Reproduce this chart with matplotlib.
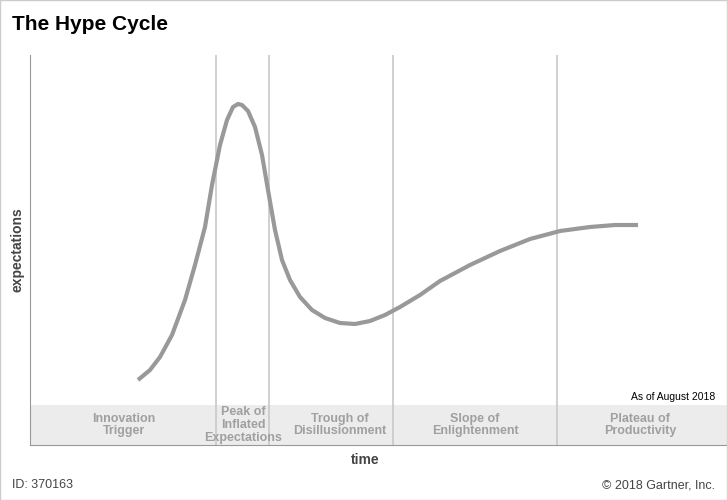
import matplotlib.pyplot as plt
from matplotlib.patches import Rectangle

plt.rcParams['font.family'] = ['Liberation Sans', 'DejaVu Sans']

# curve (x = time, y = expectations), axis units
time_vals = [108, 120, 130, 142, 155, 165, 175, 182, 190, 197, 203, 208, 212, 218, 225,
             232, 238, 245, 252, 260, 270, 282, 295, 310, 325, 340, 355, 370, 390,
             410, 440, 470, 500, 530, 560, 585, 608]
expect_vals = [65, 75, 88, 110, 145, 180, 218, 260, 300, 325, 338, 341, 340, 334, 318,
               290, 255, 215, 185, 165, 148, 135, 127, 122, 121, 124, 130, 138, 150,
               164, 180, 194, 206, 214, 218, 220, 220]

phase_bounds = [186, 239, 363, 527]
phase_names = ['Innovation\nTrigger', 'Peak of\nInflated\nExpectations', 'Trough of\nDisillusionment',
               'Slope of\nEnlightenment', 'Plateau of\nProductivity']
phase_centers = [94, 213, 310, 445, 610]

fig = plt.figure(figsize=(7.27, 5), dpi=100)
fig.patches.append(Rectangle((0, 0), 1, 1, transform=fig.transFigure, fill=False,
                             edgecolor='#cccccc', linewidth=1))

# axes in pixel frame: x 30..727, y 55..445
ax = fig.add_axes([30 / 727, 55 / 500, 697 / 727, 390 / 500])
ax.set_xlim(0, 697)
ax.set_ylim(0, 390)
for s in ['top', 'right']:
    ax.spines[s].set_visible(False)
ax.spines['left'].set_color('#999999')
ax.spines['bottom'].set_color('#999999')
ax.set_xticks([])
ax.set_yticks([])

ax.add_patch(Rectangle((0, 0), 697, 40, facecolor='#ececec', edgecolor='none', zorder=0))
for b in phase_bounds:
    ax.plot([b, b], [0, 390], color='#c8c8c8', lw=1.2, zorder=1)

ax.plot(time_vals, expect_vals, color='#999999', lw=3, solid_capstyle='butt', zorder=3)

for name, c in zip(phase_names, phase_centers):
    ax.text(c, 20, name, ha='center', va='center', color='#a0a0a0', fontsize=9,
            fontweight='bold', linespacing=1.1, zorder=4)

ax.text(685, 43, 'As of August 2018', ha='right', va='bottom', fontsize=7.5)

fig.text(12 / 727, 1 - 25 / 500, 'The Hype Cycle', fontsize=15, fontweight='bold', va='center')
fig.text(18 / 727, 1 - 250 / 500, 'expectations', rotation=90, fontsize=10, fontweight='bold',
         color='#444444', ha='center', va='center')
fig.text(365 / 727, 1 - 460 / 500, 'time', fontsize=10, fontweight='bold', color='#444444',
         ha='center', va='center')
fig.text(12 / 727, 1 - 485 / 500, 'ID: 370163', fontsize=9, color='#444444', va='center')
fig.text(715 / 727, 1 - 485 / 500, '\u00a9 2018 Gartner, Inc.', fontsize=9, color='#444444',
         va='center', ha='right')

fig.savefig('out.png', dpi=100)
